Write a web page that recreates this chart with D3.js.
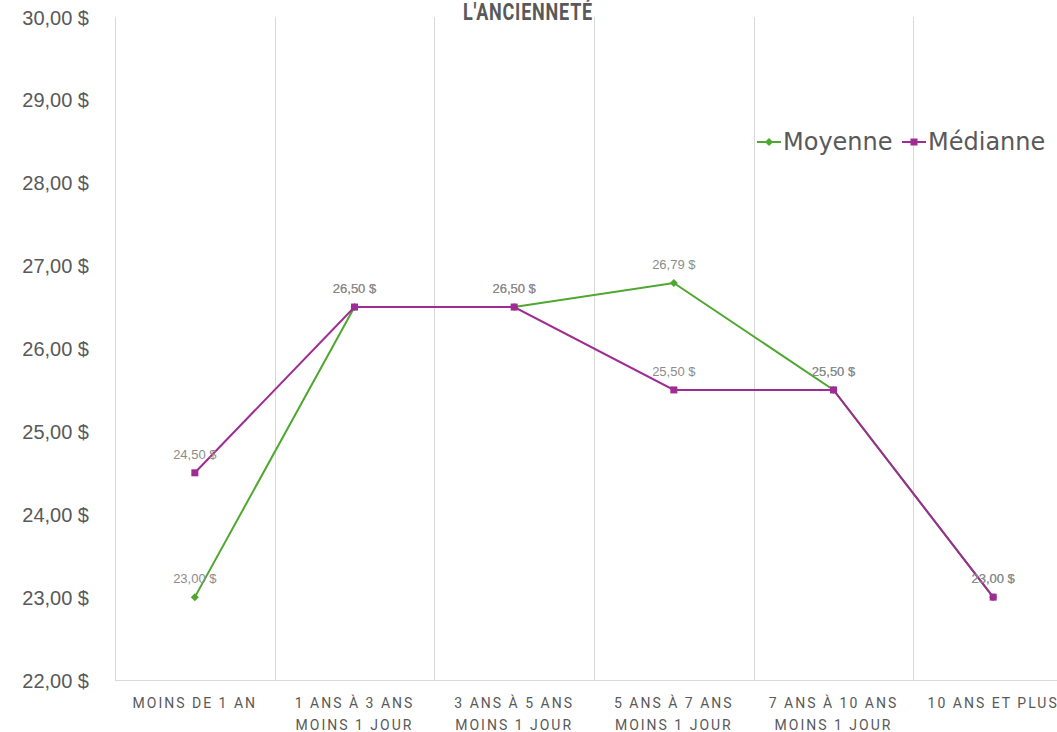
<!DOCTYPE html>
<html>
<head>
<meta charset="utf-8">
<script src="https://cdn.jsdelivr.net/npm/d3@7"></script>
<style>
  body { margin: 0; background: #fff; }
  svg { display: block; }
</style>
</head>
<body>
<div id="chart"></div>
<script>
// data
var categories = [
  ["MOINS DE 1 AN"],
  ["1 ANS À 3 ANS", "MOINS 1 JOUR"],
  ["3 ANS À 5 ANS", "MOINS 1 JOUR"],
  ["5 ANS À 7 ANS", "MOINS 1 JOUR"],
  ["7 ANS À 10 ANS", "MOINS 1 JOUR"],
  ["10 ANS ET PLUS"]
];
var moyenne = [23.00, 26.50, 26.50, 26.79, 25.50, 23.00];
var medianne = [24.50, 26.50, 26.50, 25.50, 25.50, 23.00];
var seriesNames = ["Moyenne", "Médianne"];
var seriesColors = ["#4ea72e", "#a02b93"];
var yTicks = [22, 23, 24, 25, 26, 27, 28, 29, 30];
var title = "L'ANCIENNETÉ";

var W = 1057, H = 732;
var plot = {left: 115, right: 1073, top: 17, bottom: 680};

var svg = d3.select("#chart").append("svg")
            .attr("width", W)
            .attr("height", H);

var x = d3.scaleBand()
          .domain(d3.range(categories.length))
          .range([plot.left, plot.right]);

var y = d3.scaleLinear()
          .domain([22, 30])
          .range([plot.bottom, plot.top]);

var fmt = function(v){ return d3.format(".2f")(v).replace(".", ",") + " $"; };

//vertical gridlines at category boundaries
svg.append("g")
   .selectAll("line")
   .data(d3.range(categories.length + 1))
   .enter().append("line")
   .attr("x1", function(i){ return Math.round(plot.left + i*x.bandwidth()) + 0.5; })
   .attr("x2", function(i){ return Math.round(plot.left + i*x.bandwidth()) + 0.5; })
   .attr("y1", plot.top)
   .attr("y2", plot.bottom)
   .attr("stroke", "#d9d9d9")
   .attr("stroke-width", 1);

//bottom axis line
svg.append("line")
   .attr("x1", plot.left).attr("x2", plot.right)
   .attr("y1", plot.bottom + 0.5).attr("y2", plot.bottom + 0.5)
   .attr("stroke", "#d9d9d9");

//y axis labels
var yAxis = d3.axisLeft(y).tickValues(yTicks).tickFormat(fmt).tickSize(0).tickPadding(0);
var yg = svg.append("g")
            .attr("transform", "translate(89,0)")
            .call(yAxis);
yg.select(".domain").remove();
yg.selectAll("text")
  .attr("font-family", "'Liberation Sans', Arial, sans-serif")
  .attr("font-size", 20)
  .attr("fill", "#595959")
  .attr("dy", "0.35em");

//x category labels
var xl = svg.append("g")
            .selectAll("text")
            .data(categories)
            .enter().append("text")
            .attr("x", function(d, i){ return x(i) + x.bandwidth()/2; })
            .attr("y", 708)
            .attr("text-anchor", "middle")
            .attr("font-family", "Roboto, 'Liberation Sans', sans-serif")
            .attr("font-size", 14)
            .attr("letter-spacing", 2)
            .attr("fill", "#595959");
xl.each(function(d){
  var t = d3.select(this);
  d.forEach(function(line, j){
    t.append("tspan")
     .attr("x", t.attr("x"))
     .attr("dy", j === 0 ? 0 : 22)
     .text(line);
  });
});

//title, partly clipped at top
svg.append("text")
   .attr("x", 528)
   .attr("y", 20)
   .attr("text-anchor", "middle")
   .attr("font-family", "Roboto, 'Liberation Sans', sans-serif")
   .attr("font-weight", "bold")
   .attr("font-size", 23)
   .attr("letter-spacing", 1)
   .attr("textLength", 130)
   .attr("lengthAdjust", "spacingAndGlyphs")
   .attr("fill", "#595959")
   .text(title);

var series = [moyenne, medianne];
var line = d3.line()
             .x(function(d, i){ return x(i) + x.bandwidth()/2; })
             .y(function(d){ return y(d); });

function marker(g, si, cx, cy){
  if(si === 0){
    g.append("path")
     .attr("d", "M" + cx + "," + (cy-4) + "L" + (cx+4) + "," + cy + "L" + cx + "," + (cy+4) + "L" + (cx-4) + "," + cy + "Z")
     .attr("fill", seriesColors[si]);
  } else {
    g.append("rect")
     .attr("x", cx-3.5).attr("y", cy-3.5)
     .attr("width", 7).attr("height", 7)
     .attr("fill", seriesColors[si]);
  }
}

series.forEach(function(vals, si){
  var g = svg.append("g");
  g.append("path")
   .datum(vals)
   .attr("d", line)
   .attr("fill", "none")
   .attr("stroke", seriesColors[si])
   .attr("stroke-width", 2);
  vals.forEach(function(v, i){
    marker(g, si, x(i) + x.bandwidth()/2, y(v));
  });
});

//data labels drawn on top
series.forEach(function(vals, si){
  svg.append("g")
     .selectAll("text")
     .data(vals)
     .enter().append("text")
     .attr("x", function(d, i){ return x(i) + x.bandwidth()/2; })
     .attr("y", function(d){ return y(d) - 14; })
     .attr("text-anchor", "middle")
     .attr("font-family", "'Liberation Sans', Arial, sans-serif")
     .attr("font-size", 13)
     .attr("fill", "#8c8c8c")
     .text(fmt);
});

//legend
var legend = svg.append("g").attr("transform", "translate(757,142)");
var lx = [0, 145];
seriesNames.forEach(function(name, si){
  var g = legend.append("g").attr("transform", "translate(" + lx[si] + ",0)");
  g.append("line")
   .attr("x1", 0).attr("x2", 24)
   .attr("y1", 0).attr("y2", 0)
   .attr("stroke", seriesColors[si])
   .attr("stroke-width", 2);
  marker(g, si, 12, 0);
  g.append("text")
   .attr("x", 26)
   .attr("y", 0)
   .attr("dy", "0.35em")
   .attr("font-family", "'DejaVu Sans', Verdana, sans-serif")
   .attr("font-size", 24)
   .attr("fill", "#595959")
   .text(name);
});
</script>
</body>
</html>
